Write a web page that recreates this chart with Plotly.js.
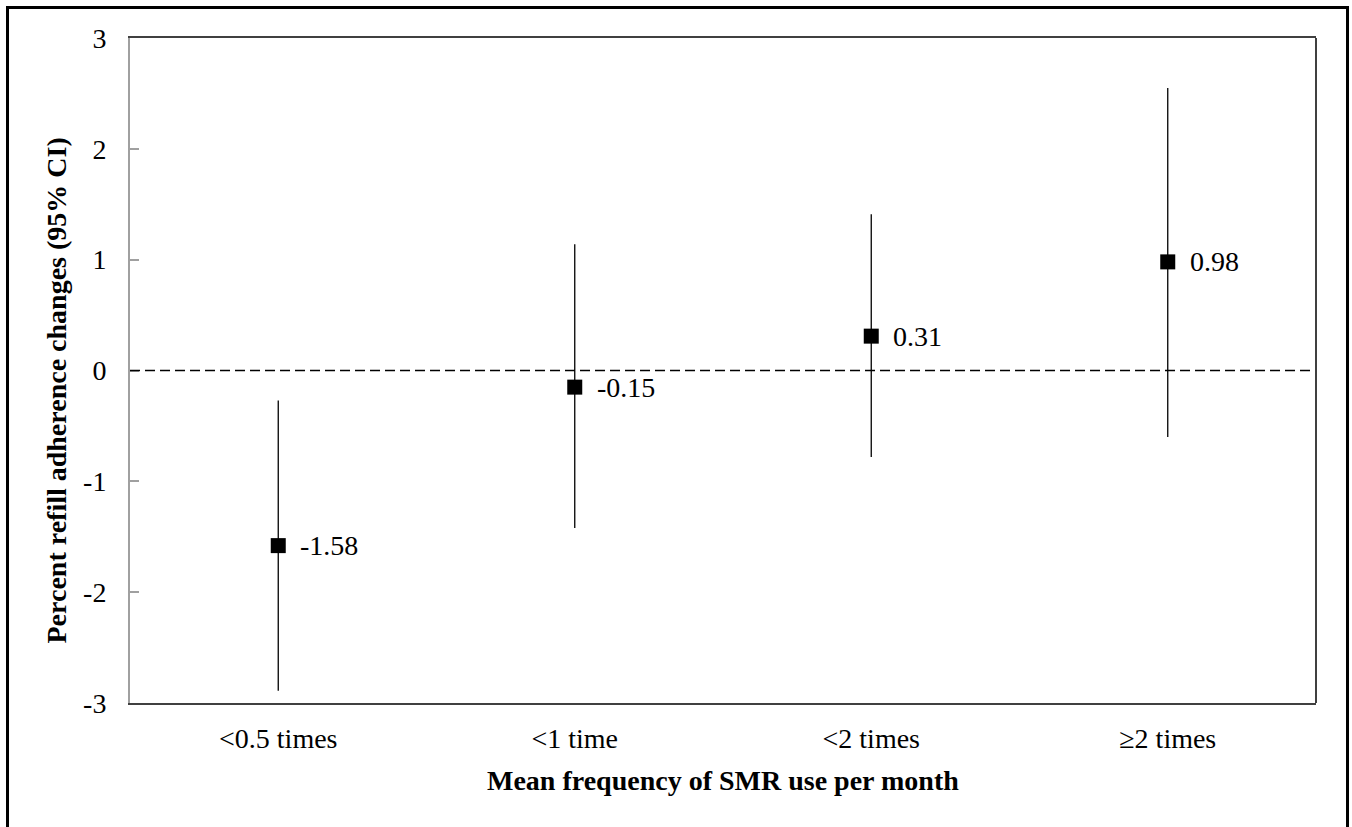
<!DOCTYPE html>
<html>
<head>
<meta charset="utf-8">
<script src="https://cdn.plot.ly/plotly-3.0.1.min.js"></script>
<style>
  html, body { margin: 0; padding: 0; background: #fff; }
  #wrap { position: relative; width: 1352px; height: 827px; overflow: hidden; }
  #chart { width: 1352px; height: 827px; }
  #frame { position: absolute; left: 6px; top: 6px; width: 1337px; height: 840px;
           border: 3px solid #000; pointer-events: none; }
</style>
</head>
<body>
<div id="wrap">
  <div id="chart"></div>
  <div id="frame"></div>
</div>
<script>
// Data
const categories = ["<0.5 times", "<1 time", "<2 times", "\u22652 times"];
const estimates  = [-1.58, -0.15, 0.31, 0.98];
const ciUpper    = [-0.27, 1.14, 1.41, 2.55];
const ciLower    = [-2.89, -1.42, -0.78, -0.60];
const yTicks     = [-3, -2, -1, 0, 1, 2, 3];

const serif = "'Liberation Serif', 'Times New Roman', serif";

const trace = {
  type: "scatter",
  mode: "markers",
  x: categories,
  y: estimates,
  marker: { symbol: "square", size: 15, color: "#000" },
  error_y: {
    type: "data",
    symmetric: false,
    array: estimates.map((v, i) => ciUpper[i] - v),
    arrayminus: estimates.map((v, i) => v - ciLower[i]),
    width: 0,
    thickness: 1.3,
    color: "#000"
  },
  hoverinfo: "x+y",
  showlegend: false
};

const labelAnnotations = categories.map((c, i) => ({
  x: c, y: estimates[i], xref: "x", yref: "y",
  text: estimates[i].toFixed(2),
  showarrow: false, xanchor: "left", yanchor: "middle",
  xshift: 20,
  font: { family: serif, size: 28, color: "#000" }
}));

const layout = {
  width: 1352, height: 827,
  margin: { l: 130, r: 36, t: 38, b: 124 },
  paper_bgcolor: "#fff", plot_bgcolor: "#fff",
  font: { family: serif, color: "#000" },
  xaxis: {
    type: "category",
    categoryorder: "array",
    categoryarray: categories,
    range: [-0.5, 3.5],
    showgrid: false, zeroline: false,
    showline: true, linecolor: "#404040", linewidth: 2, mirror: true,
    ticks: "",
    tickfont: { family: serif, size: 28, color: "#000" },
    ticklabelstandoff: 9,
    title: { text: "" }
  },
  yaxis: {
    range: [-3, 3],
    tickvals: yTicks,
    ticktext: yTicks.map(String),
    showgrid: false, zeroline: false,
    showline: true, linecolor: "#a0a0a0", linewidth: 2,
    ticks: "inside", ticklen: 9, tickwidth: 2, tickcolor: "#a0a0a0",
    tickfont: { family: serif, size: 28, color: "#000" },
    ticklabelstandoff: 16,
    title: { text: "" }
  },
  shapes: [
    { type: "line", xref: "paper", yref: "y", x0: 0, x1: 1, y0: 0, y1: 0,
      line: { color: "#000", width: 1.3, dash: "10px,5px" } },
    { type: "line", xref: "paper", yref: "paper", x0: 1, x1: 1, y0: 0, y1: 1,
      line: { color: "#404040", width: 2 } }
  ],
  annotations: labelAnnotations.concat([
    { xref: "paper", yref: "paper", x: 0.5, y: 0, yshift: -77,
      text: "<b>Mean frequency of SMR use per month</b>",
      showarrow: false, xanchor: "center", yanchor: "middle",
      font: { family: serif, size: 28, color: "#000" } },
    { xref: "paper", yref: "paper", x: 0, xshift: -74, y: 0.5, yshift: -20,
      text: "<b>Percent refill adherence changes (95% CI)</b>",
      textangle: -90,
      showarrow: false, xanchor: "center", yanchor: "middle",
      font: { family: serif, size: 28, color: "#000" } }
  ])
};

Plotly.newPlot("chart", [trace], layout, { displayModeBar: false, staticPlot: true });
</script>
</body>
</html>
